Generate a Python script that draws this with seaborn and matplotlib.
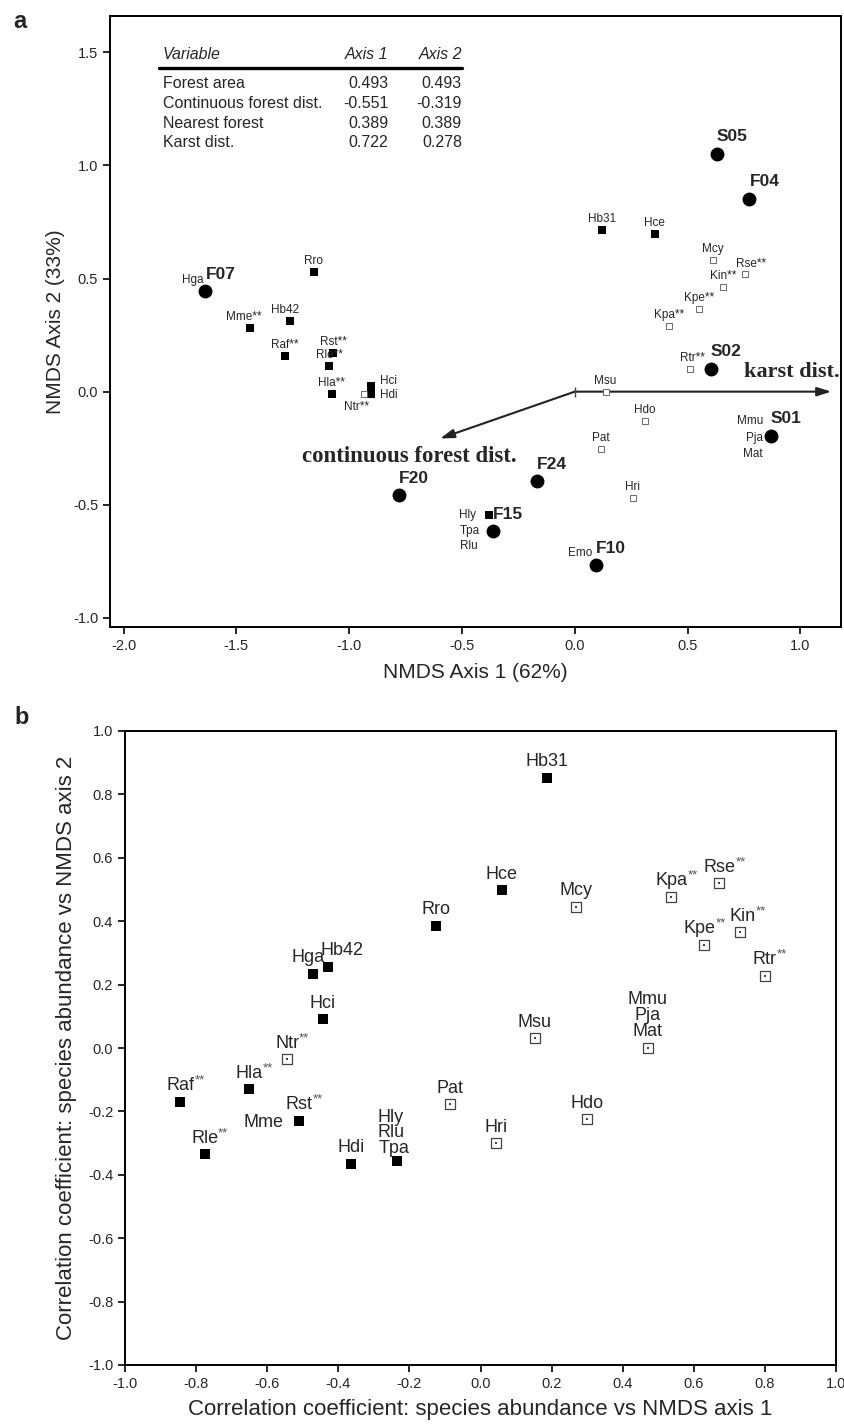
import matplotlib
matplotlib.use("Agg")
import matplotlib.pyplot as plt
from matplotlib import font_manager
import seaborn as sns
import pandas as pd

# --- DATA --- #

# panel a: site scores on the two NMDS axes
site_names = ['F07', 'S05', 'F04', 'S02', 'S01', 'F20', 'F24', 'F15', 'F10']
site_x = [-1.637, 0.630, 0.774, 0.602, 0.870, -0.779, -0.169, -0.363, 0.093]
site_y = [0.443, 1.051, 0.852, 0.102, -0.194, -0.458, -0.397, -0.617, -0.768]

# panel a: species scores (1 = filled square, 0 = open square)
spa_names = ['Rro', 'Mme**', 'Hb42', 'Raf**', 'Rst**', 'Rle**', 'Hla**', 'Hci', 'Hdi',
             'Hb31', 'Hce', 'Hly',
             'Ntr**', 'Mcy', 'Rse**', 'Kin**', 'Kpe**', 'Kpa**', 'Rtr**', 'Msu', 'Hdo',
             'Pat', 'Hri']
spa_x = [-1.158, -1.441, -1.261, -1.286, -1.071, -1.088, -1.077, -0.904, -0.905,
         0.121, 0.354, -0.382,
         -0.936, 0.614, 0.754, 0.659, 0.550, 0.417, 0.509, 0.137, 0.310,
         0.115, 0.257]
spa_y = [0.530, 0.281, 0.313, 0.159, 0.169, 0.115, -0.009, 0.027, -0.009,
         0.715, 0.698, -0.547,
         -0.009, 0.580, 0.520, 0.461, 0.366, 0.288, 0.102, 0.000, -0.128,
         -0.252, -0.472]
spa_filled = [1, 1, 1, 1, 1, 1, 1, 1, 1, 1, 1, 1,
              0, 0, 0, 0, 0, 0, 0, 0, 0, 0, 0]

# species that sit on a site circle (only a label is drawn)
spa_shared = {'F07': ['Hga'], 'F15': ['Tpa', 'Rlu'], 'F10': ['Emo'],
              'S01': ['Mmu', 'Pja', 'Mat']}

# fitted environmental vectors
vec_names = ['karst dist.', 'continuous forest dist.']
vec_x = [1.137, -0.597]
vec_y = [0.0, -0.207]

# correlation table in panel a
tbl_vars = ['Forest area', 'Continuous forest dist.', 'Nearest forest', 'Karst dist.']
tbl_ax1 = ['0.493', '-0.551', '0.389', '0.722']
tbl_ax2 = ['0.493', '-0.319', '0.389', '0.278']

# panel b: correlation of species abundance with the NMDS axes
spb_names = ['Hb31', 'Hce', 'Rro', 'Hga', 'Hb42', 'Hci', 'Hla**', 'Raf**', 'Rle**',
             'Rst**', 'Hdi', 'Tpa',
             'Mcy', 'Kpa**', 'Rse**', 'Kin**', 'Kpe**', 'Rtr**', 'Mat', 'Msu', 'Hdo',
             'Hri', 'Pat', 'Ntr**']
spb_x = [0.186, 0.060, -0.125, -0.470, -0.430, -0.444, -0.652, -0.844, -0.776,
         -0.511, -0.363, -0.234,
         0.270, 0.537, 0.672, 0.730, 0.630, 0.800, 0.470, 0.153, 0.300,
         0.045, -0.087, -0.544]
spb_y = [0.852, 0.497, 0.385, 0.235, 0.255, 0.090, -0.130, -0.170, -0.335,
         -0.230, -0.365, -0.355,
         0.445, 0.477, 0.520, 0.365, 0.325, 0.228, 0.000, 0.030, -0.225,
         -0.300, -0.178, -0.035]
spb_filled = [1, 1, 1, 1, 1, 1, 1, 1, 1, 1, 1, 1,
              0, 0, 0, 0, 0, 0, 0, 0, 0, 0, 0, 0]
spb_shared = {'Rst**': ['Mme'], 'Tpa': ['Rlu', 'Hly'], 'Mat': ['Pja', 'Mmu']}

# --- STYLE --- #
sns.set_theme(style='ticks')
plt.rcParams['font.family'] = ['Liberation Sans', 'DejaVu Sans']
plt.rcParams['axes.linewidth'] = 1.4
plt.rcParams['axes.edgecolor'] = 'black'

# narrow face for the panel b tick labels if it is there
installed = {f.name for f in font_manager.fontManager.ttflist}
narrow = 'Liberation Sans Narrow' if 'Liberation Sans Narrow' in installed else 'Liberation Sans'
serif = ['Liberation Serif', 'DejaVu Serif']

fig = plt.figure(figsize=(8.44, 14.24), dpi=100)
ax_a = fig.add_axes([110 / 844, 1 - 627 / 1424, 731 / 844, 611 / 1424])
ax_b = fig.add_axes([125 / 844, 1 - 1365 / 1424, 711 / 844, 634 / 1424])

# --- PANEL A --- #
spa = pd.DataFrame({'name': spa_names, 'x': spa_x, 'y': spa_y, 'filled': spa_filled})
sites = pd.DataFrame({'name': site_names, 'x': site_x, 'y': site_y})

sns.scatterplot(data=spa[spa.filled == 1], x='x', y='y', marker='s', s=26, color='black',
                linewidth=0, legend=False, ax=ax_a, zorder=3)
sns.scatterplot(data=spa[spa.filled == 0], x='x', y='y', marker='s', s=24, color='white',
                edgecolor='#555555', linewidth=0.6, legend=False, ax=ax_a, zorder=3)
sns.scatterplot(data=sites, x='x', y='y', marker='o', s=100, color='black',
                linewidth=0, legend=False, ax=ax_a, zorder=4)

# label offsets in pixels (default: centred above the square)
off_a = {'Hci': (18, 5), 'Hdi': (18, -1), 'Ntr**': (-7, -13), 'Mme**': (-6, 11),
         'Hb42': (-5, 11), 'Rse**': (6, 10), 'Rtr**': (3, 11)}
fs_sp = 8.5
for _, r in spa.iterrows():
    if r['name'] == 'Hly':
        ax_a.annotate('Hly', (r.x, r.y), xytext=(-30, 0), textcoords='offset pixels',
                      ha='left', va='center', fontsize=fs_sp)
        continue
    dx, dy = off_a.get(r['name'], (0, 11))
    ax_a.annotate(r['name'], (r.x, r.y), xytext=(dx, dy), textcoords='offset pixels',
                  ha='center', va='center', fontsize=fs_sp)

for _, r in sites.iterrows():
    ax_a.annotate(r['name'], (r.x, r.y), xytext=(15, 17), textcoords='offset pixels',
                  ha='center', va='center', fontsize=12.5, fontweight='bold')

shared_off = {'Hga': (-2, 11, 'right'), 'Tpa': (-33, 0, 'left'), 'Rlu': (-33, -15, 'left'),
              'Emo': (-3, 12, 'right'), 'Mmu': (-8, 15, 'right'), 'Pja': (-8, -2, 'right'),
              'Mat': (-8, -18, 'right')}
for site, names in spa_shared.items():
    sx = site_x[site_names.index(site)]
    sy = site_y[site_names.index(site)]
    for nm in names:
        dx, dy, ha = shared_off[nm]
        ax_a.annotate(nm, (sx, sy), xytext=(dx, dy), textcoords='offset pixels',
                      ha=ha, va='center', fontsize=fs_sp)

# environmental vectors
for nm, vx, vy in zip(vec_names, vec_x, vec_y):
    ax_a.annotate('', xy=(vx, vy), xytext=(0, 0),
                  arrowprops=dict(arrowstyle='-|>,head_length=0.7,head_width=0.22',
                                  color='#222222', lw=1.5, shrinkA=0, shrinkB=0), zorder=2)
ax_a.plot(0, 0, marker='|', markersize=7, color='#444444', mew=1)
ax_a.annotate(vec_names[0], (vec_x[0], vec_y[0]), xytext=(8, 15), textcoords='offset pixels',
              ha='right', va='baseline', fontsize=16, fontweight='bold', family=serif)
ax_a.annotate(vec_names[1], (vec_x[1], vec_y[1]), xytext=(-31, -24), textcoords='offset pixels',
              ha='center', va='baseline', fontsize=16.5, fontweight='bold', family=serif)

# table of vector correlations
fs_tb = 11.5
ax_a.text(-1.827, 1.488, 'Variable', ha='left', va='center', fontsize=fs_tb, style='italic')
ax_a.text(-0.827, 1.488, 'Axis 1', ha='right', va='center', fontsize=fs_tb, style='italic')
ax_a.text(-0.500, 1.488, 'Axis 2', ha='right', va='center', fontsize=fs_tb, style='italic')
ax_a.plot([-1.845, -0.500], [1.432, 1.432], color='black', lw=2.4)
for i, (v, a1, a2) in enumerate(zip(tbl_vars, tbl_ax1, tbl_ax2)):
    yy = 1.363 - i * 0.088
    ax_a.text(-1.827, yy, v, ha='left', va='center', fontsize=fs_tb)
    ax_a.text(-0.827, yy, a1, ha='right', va='center', fontsize=fs_tb)
    ax_a.text(-0.500, yy, a2, ha='right', va='center', fontsize=fs_tb)

ax_a.set_xlim(-2.06, 1.18)
ax_a.set_ylim(-1.04, 1.66)
ax_a.set_xticks([-2.0, -1.5, -1.0, -0.5, 0.0, 0.5, 1.0])
ax_a.set_yticks([-1.0, -0.5, 0.0, 0.5, 1.0, 1.5])
ax_a.xaxis.set_major_formatter(matplotlib.ticker.FormatStrFormatter('%.1f'))
ax_a.yaxis.set_major_formatter(matplotlib.ticker.FormatStrFormatter('%.1f'))
ax_a.tick_params(direction='out', length=5, width=1.2, labelsize=10.5, color='black')
ax_a.set_xlabel('NMDS Axis 1 (62%)', fontsize=15, labelpad=7)
ax_a.set_ylabel('NMDS Axis 2 (33%)', fontsize=15, labelpad=6)

# --- PANEL B --- #
spb = pd.DataFrame({'name': spb_names, 'x': spb_x, 'y': spb_y, 'filled': spb_filled})
sns.scatterplot(data=spb[spb.filled == 1], x='x', y='y', marker='s', s=48, color='black',
                linewidth=0, legend=False, ax=ax_b, zorder=3)
sns.scatterplot(data=spb[spb.filled == 0], x='x', y='y', marker='s', s=46, color='white',
                edgecolor='#444444', linewidth=0.9, legend=False, ax=ax_b, zorder=3)
sns.scatterplot(data=spb[spb.filled == 0], x='x', y='y', marker='s', s=1.5, color='#444444',
                linewidth=0, legend=False, ax=ax_b, zorder=4)


def label_b(name, x, y, dx, dy, ha='center'):
    base = name.rstrip('*')
    t = ax_b.annotate(base, (x, y), xytext=(dx, dy), textcoords='offset pixels',
                      ha=ha, va='center', fontsize=13)
    if name.endswith('**'):
        ax_b.annotate('**', xy=(1.0, 0.8), xycoords=t, ha='left', va='center',
                      fontsize=9.5, color='#555555')


off_b = {'Tpa': (-3, 12, 'center'), 'Hga': (-5, 16, 'center'), 'Hb42': (-7, 17, 'left'),
         'Kpe**': (-5, 16, 'center'), 'Kin**': (3, 16, 'center')}
for _, r in spb.iterrows():
    dx, dy, ha = off_b.get(r['name'], (0, 16, 'center'))
    label_b(r['name'], r.x, r.y, dx, dy, ha)

shared_b = {'Mme': (-15, -2, 'right'), 'Rlu': (-6, 28, 'center'), 'Hly': (-7, 43, 'center'),
            'Pja': (0, 32, 'center'), 'Mmu': (0, 48, 'center')}
for base, names in spb_shared.items():
    bx = spb_x[spb_names.index(base)]
    by = spb_y[spb_names.index(base)]
    for nm in names:
        dx, dy, ha = shared_b[nm]
        label_b(nm, bx, by, dx, dy, ha)

ax_b.set_xlim(-1.0, 1.0)
ax_b.set_ylim(-1.0, 1.0)
ticks_b = [-1.0, -0.8, -0.6, -0.4, -0.2, 0.0, 0.2, 0.4, 0.6, 0.8, 1.0]
ax_b.set_xticks(ticks_b)
ax_b.set_yticks(ticks_b)
ax_b.xaxis.set_major_formatter(matplotlib.ticker.FormatStrFormatter('%.1f'))
ax_b.yaxis.set_major_formatter(matplotlib.ticker.FormatStrFormatter('%.1f'))
ax_b.tick_params(direction='out', length=5, width=1.2, labelsize=10.5, color='black')
for lab in ax_b.get_xticklabels() + ax_b.get_yticklabels():
    lab.set_family([narrow, 'DejaVu Sans'])
ax_b.set_xlabel('Correlation coefficient: species abundance vs NMDS axis 1', fontsize=16,
                labelpad=6)
ax_b.set_ylabel('Correlation coefficient: species abundance vs NMDS axis 2', fontsize=16,
                labelpad=8)

fig.text(20 / 844, 1 - 22 / 1424, 'a', fontsize=17, fontweight='bold', ha='center', va='center')
fig.text(22 / 844, 1 - 718 / 1424, 'b', fontsize=17, fontweight='bold', ha='center', va='center')

fig.savefig('out.png', dpi=100)
